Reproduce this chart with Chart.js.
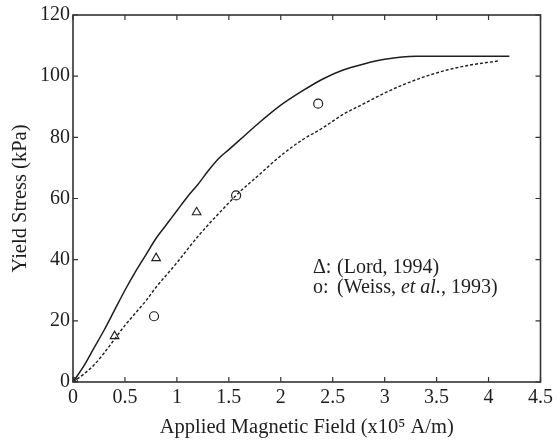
<!DOCTYPE html>
<html>
<head>
<meta charset="utf-8">
<script src="https://cdn.jsdelivr.net/npm/chart.js@4/dist/chart.umd.min.js"></script>
<style>
html,body{margin:0;padding:0;background:#fff;}
#wrap{width:557px;height:442px;position:relative;}
</style>
</head>
<body>
<div id="wrap"><canvas id="c" width="557" height="442"></canvas></div>
<script>
// Model curve (solid)
const solidX = [0,0.1,0.2,0.3,0.4,0.5,0.6,0.7,0.8,0.9,1.0,1.1,1.2,1.3,1.4,1.5,1.6,1.8,2.0,2.2,2.4,2.6,2.8,3.0,3.3,4.2];
const solidY = [0,5,11,17,23.5,30,36,41.5,47,51.5,56,60.5,64.5,69,73,76,79,85,90.5,95,99,102,104,105.5,106.5,106.5];
// Model curve (dashed)
const dashX = [0,0.1,0.2,0.3,0.4,0.5,0.6,0.7,0.8,1.0,1.2,1.4,1.6,1.8,2.0,2.2,2.4,2.6,2.8,3.0,3.2,3.4,3.6,3.8,4.1];
const dashY = [0,2.5,5.5,9.5,14,18.5,22.5,26.5,31,39,47.5,55,62,68,74,79,83,87.5,91,94.5,97.5,100,102,103.5,105];
// Experimental data
const lordX = [0,0.4,0.8,1.19];
const lordY = [0,15,40.5,55.5];
const weissX = [0,0.78,1.57,2.36];
const weissY = [0,21.5,61,91];
// Ticks
const xTicks = [0,0.5,1,1.5,2,2.5,3,3.5,4,4.5];
const xTickLabels = ['0','0.5','1','1.5','2','2.5','3','3.5','4','4.5'];
const yTicks = [0,20,40,60,80,100,120];
const yTickLabels = ['0','20','40','60','80','100','120'];
const xTitle = 'Applied Magnetic Field (x10\u2075 A/m)';
const yTitle = 'Yield Stress (kPa)';
const legendLines = [
  {mark:'\u0394:', parts:[{t:'(Lord, 1994)', i:false}]},
  {mark:'o:', parts:[{t:'(Weiss, ', i:false},{t:'et al.', i:true},{t:', 1993)', i:false}]}
];

const zip = (xs, ys) => xs.map((x, i) => ({x, y: ys[i]}));
const FONT = "'Liberation Serif','Times New Roman',serif";
const INK = '#1e1e1e';

const framePlugin = {
  id: 'frame',
  afterDraw(chart) {
    const {ctx, chartArea: a, scales: {x, y}} = chart;
    ctx.save();
    ctx.strokeStyle = '#333';
    ctx.lineWidth = 1.6;
    ctx.strokeRect(a.left, a.top, a.right - a.left, a.bottom - a.top);
    ctx.lineWidth = 1.2;
    const L = 5;
    ctx.beginPath();
    xTicks.forEach(v => {
      const px = x.getPixelForValue(v);
      ctx.moveTo(px, a.bottom); ctx.lineTo(px, a.bottom - L);
      ctx.moveTo(px, a.top); ctx.lineTo(px, a.top + L);
    });
    yTicks.forEach(v => {
      const py = y.getPixelForValue(v);
      ctx.moveTo(a.left, py); ctx.lineTo(a.left + L, py);
      ctx.moveTo(a.right, py); ctx.lineTo(a.right - L, py);
    });
    ctx.stroke();
    // legend text
    ctx.fillStyle = INK;
    ctx.textBaseline = 'middle';
    const lx = 313, ly0 = 268, dy = 20;
    legendLines.forEach((ln, k) => {
      const yy = ly0 + k * dy;
      ctx.font = "20px " + FONT;
      ctx.fillText(ln.mark, lx, yy);
      let cx = lx + 24;
      ln.parts.forEach(p => {
        ctx.font = (p.i ? 'italic ' : '') + "20px " + FONT;
        ctx.fillText(p.t, cx, yy);
        cx += ctx.measureText(p.t).width;
      });
    });
    ctx.restore();
  }
};

new Chart(document.getElementById('c'), {
  type: 'scatter',
  data: {
    datasets: [
      {label: 'solid', data: zip(solidX, solidY), showLine: true, borderColor: INK, borderWidth: 1.5, pointRadius: 0, cubicInterpolationMode: 'monotone', fill: false},
      {label: 'dashed', data: zip(dashX, dashY), showLine: true, borderColor: INK, borderWidth: 1.4, borderDash: [3, 2], pointRadius: 0, cubicInterpolationMode: 'monotone', fill: false},
      {label: 'Lord', data: zip(lordX, lordY), showLine: false, pointStyle: 'triangle', pointRadius: 5, borderColor: INK, borderWidth: 1.1, backgroundColor: 'rgba(0,0,0,0)'},
      {label: 'Weiss', data: zip(weissX, weissY), showLine: false, pointStyle: 'circle', pointRadius: 4.5, borderColor: INK, borderWidth: 1.2, backgroundColor: 'rgba(0,0,0,0)'}
    ]
  },
  options: {
    responsive: false,
    animation: false,
    devicePixelRatio: 1,
    layout: {padding: {top: 13, right: 14, left: 0, bottom: 0}},
    plugins: {legend: {display: false}, tooltip: {enabled: false}},
    scales: {
      x: {
        type: 'linear', min: 0, max: 4.5,
        afterFit(s) { s.height = 60; },
        afterBuildTicks(s) { s.ticks = xTicks.map(v => ({value: v})); },
        grid: {display: false, drawTicks: false},
        border: {display: false},
        ticks: {
          padding: 4, color: INK, maxRotation: 0, autoSkip: false,
          font: {family: FONT, size: 20},
          callback: (v) => { const i = xTicks.indexOf(v); return i >= 0 ? xTickLabels[i] : ''; }
        },
        title: {display: true, text: xTitle, color: INK, font: {family: FONT, size: 20.5}, padding: {top: 0, bottom: 2}}
      },
      y: {
        type: 'linear', min: 0, max: 120,
        afterFit(s) { s.width = 73; },
        afterBuildTicks(s) { s.ticks = yTicks.map(v => ({value: v})); },
        grid: {display: false, drawTicks: false},
        border: {display: false},
        ticks: {
          padding: 3, color: INK, autoSkip: false,
          font: {family: FONT, size: 20},
          callback: (v) => { const i = yTicks.indexOf(v); return i >= 0 ? yTickLabels[i] : ''; }
        },
        title: {display: true, text: yTitle, color: INK, font: {family: FONT, size: 20.5}, padding: {top: 8, bottom: 0}}
      }
    }
  },
  plugins: [framePlugin]
});
</script>
</body>
</html>
